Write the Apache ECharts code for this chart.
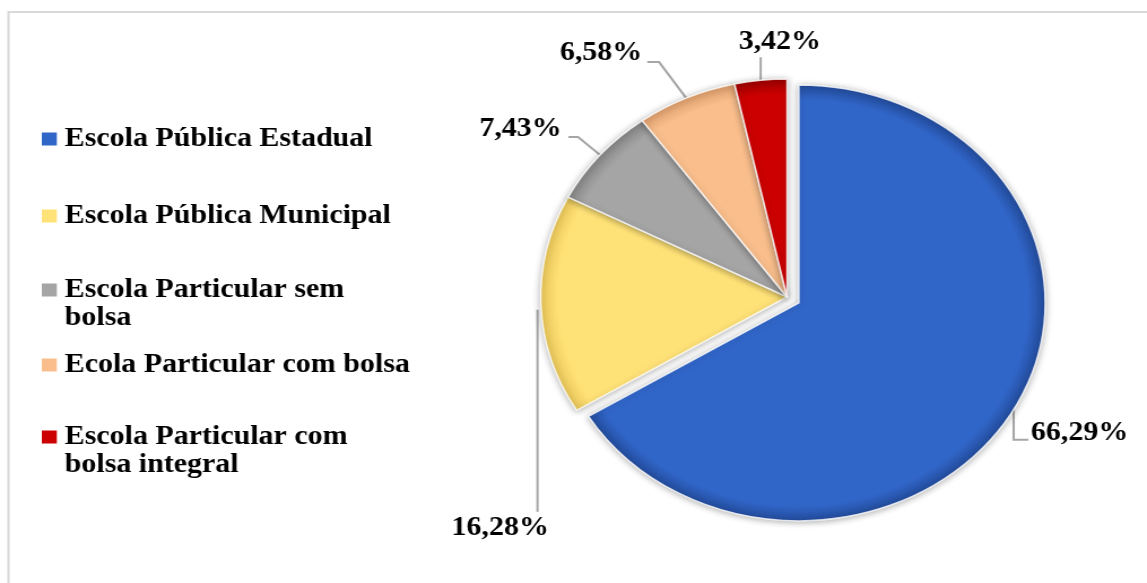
<!DOCTYPE html>
<html>
<head>
<meta charset="utf-8">
<script src="https://cdn.jsdelivr.net/npm/echarts@6/dist/echarts.min.js"></script>
<style>
  html, body { margin: 0; padding: 0; background: #fff; overflow: hidden; }
  #chart { width: 1015px; height: 583px; transform: scaleX(1.13); transform-origin: 0 0; }
</style>
</head>
<body>
<div id="chart"></div>
<script>
const categories = [
  'Escola Pública Estadual',
  'Escola Pública Municipal',
  'Escola Particular sem bolsa',
  'Ecola Particular com bolsa',
  'Escola Particular com bolsa integral'
];
const values = [66.29, 16.28, 7.43, 6.58, 3.42];
const colors = ['#3166C9', '#FFE277', '#A5A5A5', '#F9BE8C', '#CC0000'];
const rimColors = ['#234C9C', '#E8C659', '#858585', '#DC9D6C', '#9A0000'];

const FONT = '"Liberation Serif", "Times New Roman", serif';
const CX = 696.5, CY = 297, R = 218, SEL = 12;

const chart = echarts.init(document.getElementById('chart'), null, { renderer: 'canvas' });

const legendTops = [125, 202, 248, 351, 395];
const legends = categories.map(function (name, i) {
  return {
    data: [name],
    orient: 'vertical',
    left: 37,
    top: legendTops[i],
    padding: 0,
    icon: 'rect',
    itemWidth: 13.3,
    itemHeight: 13,
    selectedMode: false,
    itemStyle: { color: colors[i], shadowBlur: 0, borderWidth: 0 },
    formatter: function (n) {
      if (n.indexOf(' sem bolsa') >= 0) return '\n' + n.replace(' sem bolsa', ' sem\nbolsa');
      if (n.indexOf(' com bolsa integral') >= 0) return '\n' + n.replace(' com bolsa integral', ' com\nbolsa integral');
      return n;
    },
    textStyle: {
      fontFamily: FONT,
      fontWeight: 'bold',
      fontSize: 26.5,
      lineHeight: 28,
      color: '#000',
      padding: [0, 0, 0, 2]
    }
  };
});

function fmt(v) { return v.toFixed(2).replace('.', ',') + '%'; }

chart.setOption({
  animation: false,
  backgroundColor: '#fff',
  graphic: [{
    type: 'rect',
    z: -10,
    shape: { x: 7.5, y: 12, width: 1200, height: 700 },
    style: { fill: 'none', stroke: '#D9D9D9', lineWidth: 2 }
  }],
  legend: legends,
  series: [{
    type: 'pie',
    center: [CX, CY],
    radius: R,
    startAngle: 90,
    clockwise: true,
    selectedMode: 'multiple',
    selectedOffset: SEL,
    avoidLabelOverlap: false,
    data: categories.map(function (n, i) {
      const item = {
        name: n, value: values[i], selected: i === 0,
        itemStyle: {
          color: {
            type: 'radial', x: CX, y: CY, r: R, global: true,
            colorStops: [
              { offset: 0, color: colors[i] },
              { offset: 0.93, color: colors[i] },
              { offset: 1, color: rimColors[i] }
            ]
          }
        }
      };
      if (i === 0) item.labelLine = { length: 47.8, length2: -31.4 };
      return item;
    }),
    itemStyle: {
      borderColor: 'rgba(255,255,255,0.8)',
      borderWidth: 1.5,
      shadowBlur: 6,
      shadowColor: 'rgba(0,0,0,0.3)',
      shadowOffsetY: 1
    },
    label: {
      show: true,
      position: 'outside',
      formatter: function (p) { return fmt(p.value); },
      fontFamily: FONT,
      fontWeight: 'bold',
      fontSize: 26.5,
      color: '#000'
    },
    labelLine: {
      show: true,
      length: 20,
      length2: 10,
      lineStyle: { color: '#A6A6A6', width: 2 }
    },
    emphasis: { disabled: true },
    labelLayout: function (p) {
      const a = p.labelLinePoints[0];
      const x0 = a[0], y0 = a[1];
      const i = p.dataIndex;
      if (i === 0) {
        return { labelLinePoints: [[x0, y0], [x0, y0 + 30], [x0 + 13, y0 + 30]] };
      }
      if (i === 1) {
        return { x: x0 - 36, y: y0 + 223, align: 'center', verticalAlign: 'middle',
          labelLinePoints: [[x0 - 3, y0 + 5], [x0 - 3, y0 + 207], [x0 - 3, y0 + 207]] };
      }
      if (i === 2) {
        return { x: x0 - 34, y: y0 - 26, align: 'right', verticalAlign: 'middle',
          labelLinePoints: [[x0, y0], [x0 - 19.5, y0 - 18], [x0 - 28, y0 - 18]] };
      }
      if (i === 3) {
        return { x: x0 - 39, y: y0 - 45, align: 'right', verticalAlign: 'middle',
          labelLinePoints: [[x0, y0], [x0 - 24, y0 - 36], [x0 - 34.5, y0 - 36]] };
      }
      return { x: x0 + 17, y: y0 - 38, align: 'center', verticalAlign: 'middle',
        labelLinePoints: [[x0, y0], [x0, y0 - 23], [x0, y0 - 23]] };
    }
  }]
});
</script>
</body>
</html>
